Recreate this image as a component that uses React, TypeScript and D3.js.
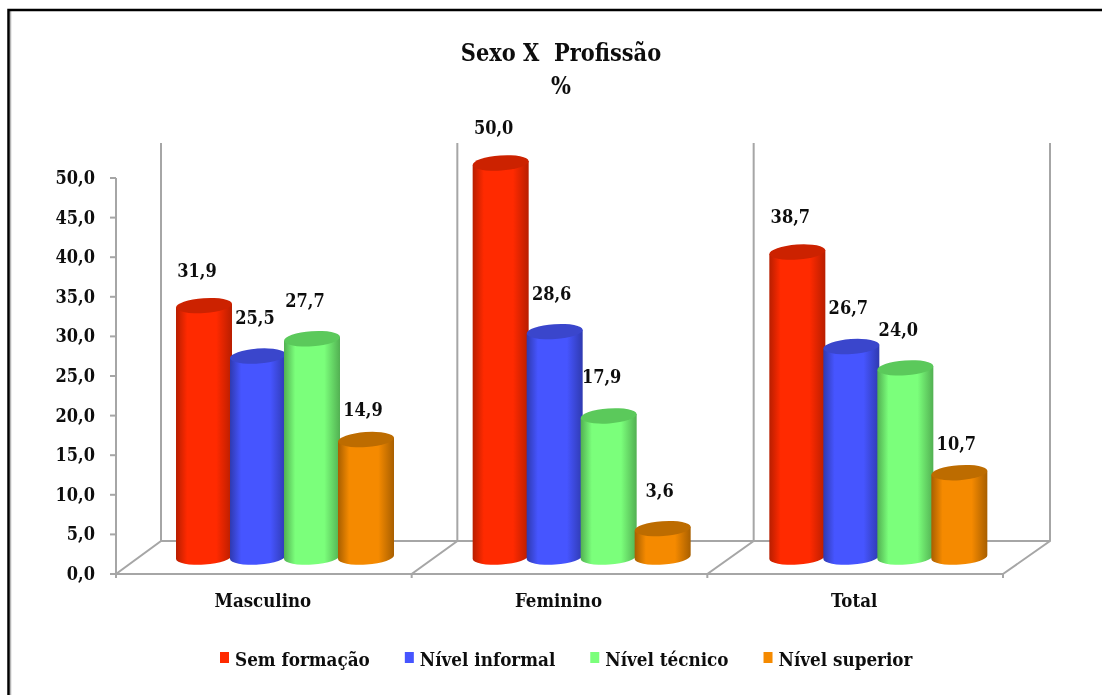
import { useEffect, useRef } from "react";
import * as d3 from "d3";

const categories = ["Masculino", "Feminino", "Total"];
const seriesNames = ["Sem formação", "Nível informal", "Nível técnico", "Nível superior"];
const semFormacao = [31.9, 50.0, 38.7];
const nivelInformal = [25.5, 28.6, 26.7];
const nivelTecnico = [27.7, 17.9, 24.0];
const nivelSuperior = [14.9, 3.6, 10.7];
const seriesValues = [semFormacao, nivelInformal, nivelTecnico, nivelSuperior];
const yTicks = [0, 5, 10, 15, 20, 25, 30, 35, 40, 45, 50];

const mainColors = ["#ff2a00", "#4655ff", "#7bff7b", "#f58a00"];
const edgeColors = ["#b81e00", "#2f3ab0", "#52b052", "#a85f00"];
const topColors = ["#cc2200", "#3a46cc", "#5bc95b", "#bd6c00"];

// hand nudges for the value labels, per series then category
const labelDx = [-7, -3, -7, -3];
const labelDy = [
  [-29, -29, -29],
  [-32, -32, -33],
  [-32, -33, -32],
  [-24, -32, -23],
];

const width = 1102;
const height = 695;
const font = "'DejaVu Serif Condensed', 'DejaVu Serif', serif";
const comma = (v: number) => v.toFixed(1).replace(".", ",");

export default function App() {
  const svgRef = useRef<SVGSVGElement>(null);

  useEffect(() => {
    if (!svgRef.current) return;
    const svg = d3.select(svgRef.current);
    svg.selectAll("*").remove();

    const left = 116;
    const right = 1003;
    const bottom = 574;
    const depthY = 33;

    const y = d3.scaleLinear().domain([0, 50]).range([bottom, 178]);
    const barY = d3.scaleLinear().domain([0, 50]).range([557, 163]);
    const xFront = d3.scaleBand<string>().domain(categories).range([left, right]);
    const xBack = d3.scaleBand<string>().domain(categories).range([161, 1050]);
    const xBars = d3.scaleBand<string>().domain(categories).range([116, 1006]);
    const x1 = d3.scaleBand<string>().domain(seriesNames).range([61, 277]);

    // Gradients for the cylinders
    const defs = svg.append("defs");
    seriesNames.forEach((_, i) => {
      const g = defs
        .append("linearGradient")
        .attr("id", `cyl${i}`)
        .attr("x1", "0")
        .attr("x2", "1")
        .attr("y1", "0")
        .attr("y2", "0");
      g.append("stop").attr("offset", "0").attr("stop-color", edgeColors[i]);
      g.append("stop").attr("offset", "0.2").attr("stop-color", mainColors[i]);
      g.append("stop").attr("offset", "0.72").attr("stop-color", mainColors[i]);
      g.append("stop").attr("offset", "1").attr("stop-color", edgeColors[i]);
    });
    defs
      .append("filter")
      .attr("id", "soft")
      .append("feGaussianBlur")
      .attr("stdDeviation", 0.35);

    // Outer frame: only left and top are drawn in the source
    svg
      .append("path")
      .attr("d", `M10.5,${height}V11`)
      .attr("fill", "none")
      .attr("stroke", "#b5b5b5")
      .attr("stroke-width", 1.5);
    svg
      .append("path")
      .attr("d", `M8.5,${height}V10H${width}`)
      .attr("fill", "none")
      .attr("stroke", "#000")
      .attr("stroke-width", 2.5);

    // Walls and floor
    const grid = svg
      .append("g")
      .attr("fill", "none")
      .attr("stroke", "#a6a6a6")
      .attr("stroke-width", 2);
    grid.append("path").attr("d", `M${left},${bottom}H${right}`);
    grid.append("path").attr("d", `M161,${bottom - depthY}H1050`);
    const frontEdges = [...categories.map((c) => xFront(c)!), right];
    const backEdges = [...categories.map((c) => xBack(c)!), 1050];
    frontEdges.forEach((ex, i) => {
      grid
        .append("path")
        .attr("d", `M${ex},${bottom + 4}V${bottom}L${backEdges[i]},${bottom - depthY}V143`);
    });
    yTicks.forEach((t) => {
      grid.append("path").attr("d", `M${left - 6},${y(t)}H${left}`);
    });
    grid.append("path").attr("d", `M${left},${bottom}V${y(50)}`);

    // Cylinders
    const rx = 28;
    const ry = 7.5;
    const tilt = -4;
    const dy = 2;
    categories.forEach((c, ci) => {
      seriesNames.forEach((s, si) => {
        const cx = xBars(c)! + x1(s)! + x1.bandwidth() / 2;
        const v = seriesValues[si][ci];
        const top = barY(v);
        const base = barY(0);
        svg
          .append("path")
          .attr(
            "d",
            `M${cx - rx},${top + dy}L${cx - rx},${base + dy}` +
              `A${rx},${ry} ${tilt} 0 0 ${cx + rx},${base - dy}` +
              `L${cx + rx},${top - dy}Z`
          )
          .attr("fill", `url(#cyl${si})`);
        svg
          .append("ellipse")
          .attr("rx", rx)
          .attr("ry", ry)
          .attr("transform", `translate(${cx},${top}) rotate(${tilt})`)
          .attr("fill", topColors[si]);
      });
    });

    // Text
    const text = svg
      .append("g")
      .attr("font-family", font)
      .attr("font-weight", "bold")
      .attr("fill", "#111")
      .attr("filter", "url(#soft)");

    text
      .append("text")
      .attr("x", 561)
      .attr("y", 61)
      .attr("text-anchor", "middle")
      .attr("font-size", 23.3)
      .attr("xml:space", "preserve")
      .text("Sexo X  Profissão");
    text
      .append("text")
      .attr("x", 561)
      .attr("y", 94)
      .attr("text-anchor", "middle")
      .attr("font-size", 23.3)
      .text("%");

    yTicks.forEach((t) => {
      text
        .append("text")
        .attr("x", 95)
        .attr("y", y(t) + 6)
        .attr("text-anchor", "end")
        .attr("font-size", 18)
        .text(comma(t));
    });

    categories.forEach((c) => {
      text
        .append("text")
        .attr("x", xFront(c)! + xFront.bandwidth() / 2 - 1)
        .attr("y", 607)
        .attr("text-anchor", "middle")
        .attr("font-size", 18.5)
        .text(c);
    });

    // Value labels sit a fixed gap above each cylinder, then get nudged
    categories.forEach((c, ci) => {
      seriesNames.forEach((s, si) => {
        const cx = xBars(c)! + x1(s)! + x1.bandwidth() / 2;
        text
          .append("text")
          .attr("x", cx + labelDx[si])
          .attr("y", barY(seriesValues[si][ci]) + labelDy[si][ci])
          .attr("text-anchor", "middle")
          .attr("font-size", 18)
          .text(comma(seriesValues[si][ci]));
      });
    });

    // Legend entries flow one after another, using the measured text width
    let lx = 220;
    seriesNames.forEach((s, i) => {
      svg
        .append("rect")
        .attr("x", lx)
        .attr("y", 652)
        .attr("width", 9)
        .attr("height", 11)
        .attr("fill", mainColors[i]);
      const label = text
        .append("text")
        .attr("x", lx + 15)
        .attr("y", 666)
        .attr("font-size", 18.7)
        .text(s);
      lx += 15 + (label.node() as SVGTextElement).getComputedTextLength() + 35;
    });
  }, []);

  return (
    <svg
      ref={svgRef}
      width={width}
      height={height}
      style={{ position: "absolute", left: 0, top: 0, background: "#fff" }}
    />
  );
}
